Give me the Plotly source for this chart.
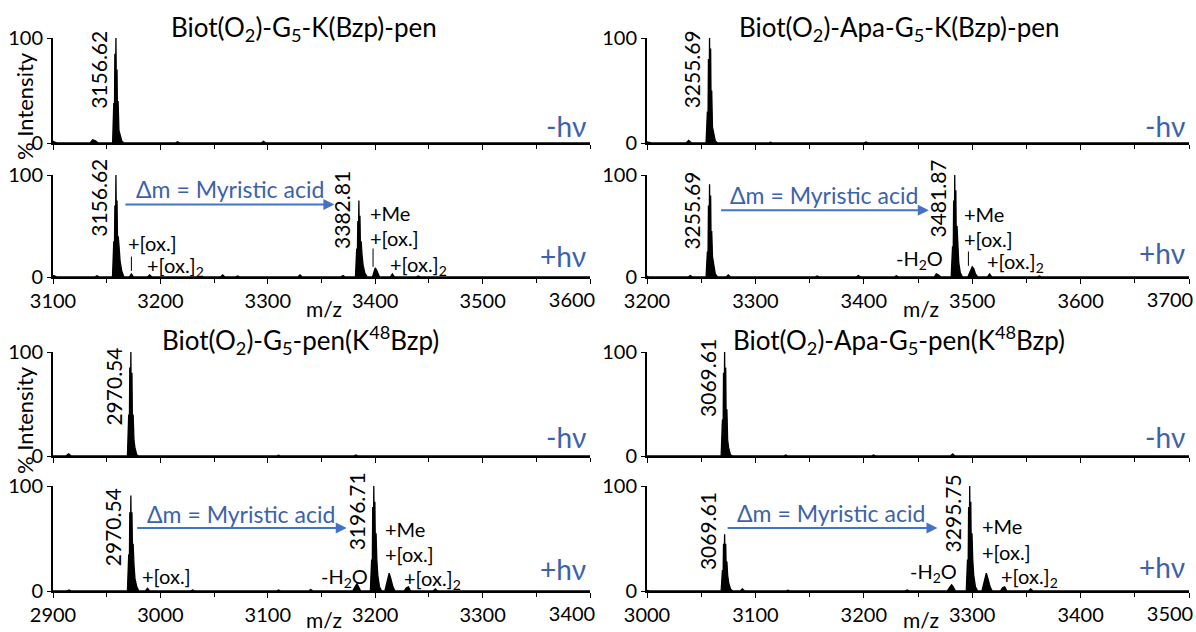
import plotly.graph_objects as go

# ------------------------------------------------------------------ data
titles = [
    "Biot(O<sub>2</sub>)-G<sub>5</sub>-K(Bzp)-pen",
    "Biot(O<sub>2</sub>)-Apa-G<sub>5</sub>-K(Bzp)-pen",
    "Biot(O<sub>2</sub>)-G<sub>5</sub>-pen(K<sup>48</sup>Bzp)",
    "Biot(O<sub>2</sub>)-Apa-G<sub>5</sub>-pen(K<sup>48</sup>Bzp)",
]
conditions = ["-hν", "+hν"]
delta_label = "Δm = Myristic acid"
y_ticks = [0, 100]

a_ticks = [3100, 3200, 3300, 3400, 3500, 3600]
b_ticks = [3200, 3300, 3400, 3500, 3600, 3700]
c_ticks = [2900, 3000, 3100, 3200, 3300, 3400]
d_ticks = [3000, 3100, 3200, 3300, 3400, 3500]

# peak labels (m/z of monoisotopic peak) : dark / light
a_dark_peaks = [3156.62]
a_light_peaks = [3156.62, 3382.81]
b_dark_peaks = [3255.69]
b_light_peaks = [3255.69, 3481.87]
c_dark_peaks = [2970.54]
c_light_peaks = [2970.54, 3196.71]
d_dark_peaks = [3069.61]
d_light_peaks = [3069.61, 3295.75]

# spectra (m/z, % intensity)
a_dark = [(3100, 2), (3102, 0.5), (3104, 0), (3134.5, 0), (3137, 3), (3139.5, 2), (3142, 0),
          (3155.5, 0), (3156.6, 38), (3157.1, 10), (3157.6, 85), (3158.1, 30), (3158.6, 100),
          (3159.1, 35), (3159.6, 70), (3160.1, 20), (3160.6, 40), (3161.4, 12), (3162.3, 8),
          (3164, 2), (3166, 0), (3214, 0), (3216, 1.2), (3218, 0), (3294, 0), (3296, 1.5),
          (3298, 0), (3600, 0)]
a_light = [(3100, 1.5), (3102, 0.5), (3104, 0), (3139, 0), (3141, 1.2), (3143, 0), (3155.4, 0),
           (3156.6, 35), (3157.1, 12), (3157.6, 70), (3158.1, 30), (3158.6, 100), (3159.1, 40),
           (3159.6, 75), (3160.1, 35), (3160.7, 40), (3161.5, 30), (3162.5, 15), (3164, 6),
           (3166, 0), (3171, 0), (3173, 3), (3175, 0), (3188, 0), (3190, 2), (3192, 0),
           (3256, 0), (3258, 2), (3260, 0), (3270, 0), (3272, 1), (3274, 0), (3328, 0),
           (3330, 2), (3332, 0), (3368, 0), (3370, 1.5), (3372, 0), (3381.6, 0), (3382.8, 28),
           (3383.3, 10), (3383.8, 55), (3384.3, 25), (3384.8, 75), (3385.3, 30), (3385.8, 60),
           (3386.3, 25), (3386.9, 35), (3387.7, 22), (3388.7, 12), (3390.3, 4), (3392.5, 0),
           (3397.5, 0), (3398.8, 6), (3400, 9), (3401.2, 7), (3402.5, 4), (3404, 0),
           (3414, 0), (3416, 3), (3418, 0), (3438, 0), (3440, 1), (3442, 0), (3600, 0)]
b_dark = [(3200, 1), (3202, 0.3), (3204, 0), (3236, 0), (3238.5, 2.5), (3241, 0), (3254.5, 0),
          (3255.7, 30), (3256.2, 8), (3256.7, 80), (3257.2, 25), (3257.7, 100), (3258.2, 35),
          (3258.7, 90), (3259.2, 25), (3259.7, 50), (3260.4, 15), (3261.3, 10), (3263, 2),
          (3265, 0), (3312, 0), (3314, 0.8), (3316, 0), (3400, 0), (3402, 1), (3404, 0),
          (3700, 0)]
b_light = [(3200, 1), (3202, 0), (3238, 0), (3240, 1.5), (3242, 0), (3254.5, 0), (3255.7, 25),
           (3256.2, 8), (3256.7, 70), (3257.2, 25), (3257.7, 91), (3258.2, 35), (3258.7, 80),
           (3259.2, 25), (3259.7, 45), (3260.4, 20), (3261.3, 12), (3263, 3), (3265, 0),
           (3273, 0), (3275, 2), (3277, 0), (3355, 0), (3357, 1), (3359, 0), (3393, 0),
           (3395, 1.5), (3397, 0), (3428, 0), (3430, 1.2), (3432, 0), (3465, 0), (3467, 3),
           (3469, 2), (3471, 0), (3480.6, 0), (3481.9, 30), (3482.4, 10), (3482.9, 75),
           (3483.4, 28), (3483.9, 100), (3484.4, 35), (3484.9, 85), (3485.4, 28), (3486.0, 50),
           (3486.7, 25), (3487.6, 14), (3489, 4), (3491, 0), (3496, 0), (3498.5, 7), (3500, 10),
           (3501.5, 8), (3503, 3), (3505, 0), (3514, 0), (3516, 3), (3518, 0), (3560, 0),
           (3562, 1), (3564, 0), (3700, 0)]
c_dark = [(2900, 0), (2912, 0), (2914.5, 2), (2917, 0), (2969.3, 0), (2970.5, 40), (2971.0, 10),
          (2971.5, 85), (2972.0, 30), (2972.5, 100), (2973.0, 35), (2973.5, 80), (2974.0, 25),
          (2974.6, 40), (2975.4, 15), (2976.3, 8), (2978, 1), (2980, 0), (3108, 0), (3110, 0.8),
          (3112, 0), (3180, 0), (3182, 1), (3184, 0), (3400, 0)]
c_light = [(2900, 0), (2913, 0), (2915, 1), (2917, 0), (2969.3, 0), (2970.5, 35), (2971.0, 10),
           (2971.5, 75), (2972.0, 30), (2972.5, 91), (2973.0, 35), (2973.5, 75), (2974.0, 40),
           (2974.6, 45), (2975.4, 25), (2976.3, 12), (2978, 4), (2980, 0), (2986, 0), (2988, 2.5),
           (2990, 0), (3028, 0), (3030, 1), (3032, 0), (3108, 0), (3110, 1), (3112, 0),
           (3138, 0), (3140, 1.5), (3142, 0), (3179, 0), (3181.5, 5), (3183, 7), (3184.5, 4),
           (3186.5, 0), (3195.5, 0), (3196.7, 30), (3197.2, 10), (3197.7, 80), (3198.2, 30),
           (3198.7, 100), (3199.2, 40), (3199.7, 85), (3200.2, 35), (3200.8, 55), (3201.5, 30),
           (3202.4, 15), (3204, 4), (3206, 0), (3209, 0), (3211.5, 10), (3213, 17),
           (3214.5, 12), (3216.5, 4), (3218.5, 0), (3227, 0), (3229, 3), (3231, 4), (3233, 0),
           (3254, 0), (3256, 2), (3258, 0), (3400, 0)]
d_dark = [(3000, 0), (3068.4, 0), (3069.6, 35), (3070.1, 10), (3070.6, 80), (3071.1, 30),
          (3071.6, 100), (3072.1, 35), (3072.6, 85), (3073.1, 25), (3073.7, 45), (3074.4, 15),
          (3075.3, 8), (3077, 1), (3079, 0), (3126, 0), (3128, 1), (3130, 0), (3207, 0),
          (3209, 1), (3211, 0), (3280, 0), (3282, 2), (3284, 0), (3500, 0)]
d_light = [(3000, 0.5), (3002, 0), (3068.4, 0), (3069.6, 20), (3070.1, 6), (3070.6, 45),
           (3071.1, 18), (3071.6, 54), (3072.1, 22), (3072.6, 45), (3073.1, 20), (3073.7, 28),
           (3074.4, 15), (3075.3, 8), (3077, 2), (3079, 0), (3086, 0), (3088, 2), (3090, 0),
           (3128, 0), (3130, 0.8), (3132, 0), (3238, 0), (3240, 1), (3242, 0), (3277, 0),
           (3279.5, 4), (3281, 6), (3282.5, 4), (3284.5, 0), (3294.5, 0), (3295.7, 30),
           (3296.2, 10), (3296.7, 80), (3297.2, 30), (3297.7, 100), (3298.2, 40), (3298.7, 85),
           (3299.2, 35), (3299.8, 55), (3300.5, 30), (3301.4, 15), (3303, 4), (3305, 0),
           (3309, 0), (3311.5, 10), (3313, 17), (3314.5, 12), (3316.5, 4), (3318.5, 0),
           (3326, 0), (3328, 3), (3330, 4), (3332, 0), (3352, 0), (3354, 2), (3356, 0),
           (3500, 0)]

# ------------------------------------------------------------------ style / layout
W, H = 1196, 632
FONT = "Lato"
BLUE_TXT = "#3C62AC"
BLUE_ARR = "#4472C4"


def fx(px):
    return px / W


def fy(py):
    return 1 - py / H


col_px = [(53, 590), (647, 1189)]
row_px = [(38, 143), (175, 277), (352, 456), (486, 591)]

# subplot order: (spectrum, ticks, peaks, column, row)
subplots = [
    (a_dark, a_ticks, a_dark_peaks, 0, 0),
    (a_light, a_ticks, a_light_peaks, 0, 1),
    (b_dark, b_ticks, b_dark_peaks, 1, 0),
    (b_light, b_ticks, b_light_peaks, 1, 1),
    (c_dark, c_ticks, c_dark_peaks, 0, 2),
    (c_light, c_ticks, c_light_peaks, 0, 3),
    (d_dark, d_ticks, d_dark_peaks, 1, 2),
    (d_light, d_ticks, d_light_peaks, 1, 3),
]

# per subplot: y (intensity) of the rotated peak labels
peak_label_y = [[70], [78, 66], [70], [65, 77], [67], [61, 76], [75], [57, 74]]
# per light subplot: arrow (x0, x1, y), delta text (x, y)
arrows = {1: (3166, 3362, 71, 3265, 86), 3: (3267, 3460, 65.5, 3363, 80),
          5: (2977, 3173.5, 60, 3075, 73), 7: (3073, 3268, 60, 3170, 74)}
# side labels: (text, x, y, xanchor)
side = {
    1: [("+[ox.]", 3168, 33, "left"), ("+[ox.]<sub>2</sub>", 3186, 10, "left"),
        ("+Me", 3393, 63, "left"), ("+[ox.]", 3393, 38, "left"),
        ("+[ox.]<sub>2</sub>", 3412, 11, "left")],
    3: [("+Me", 3491, 62, "left"), ("+[ox.]", 3491, 37, "left"),
        ("-H<sub>2</sub>O", 3475, 17, "right"), ("+[ox.]<sub>2</sub>", 3512, 14, "left")],
    5: [("+[ox.]", 2981, 14, "left"), ("+Me", 3207, 59, "left"), ("+[ox.]", 3207, 35, "left"),
        ("-H<sub>2</sub>O", 3195, 13, "right"), ("+[ox.]<sub>2</sub>", 3225, 11, "left")],
    7: [("+Me", 3307, 62, "left"), ("+[ox.]", 3307, 37, "left"),
        ("-H<sub>2</sub>O", 3288, 18, "right"), ("+[ox.]<sub>2</sub>", 3325, 13, "left")],
}
tick_marks = {1: [(3173, 6, 20), (3398, 10, 28)], 3: [(3496.5, 11, 25)]}
cond_y = [16, 21, 16, 24, 18, 21, 18, 23]
last_label_shift = [-18, -19]  # px, per column (last tick label sits left of its tick)

fig = go.Figure()
layout = dict(
    width=W, height=H, margin=dict(l=0, r=0, t=0, b=0, autoexpand=False),
    paper_bgcolor="white", plot_bgcolor="white", showlegend=False,
    font=dict(family=FONT, color="black", size=20),
)
annotations = []
shapes = []
extra = 9

for i, (spec, ticks, peaks, col, row) in enumerate(subplots):
    n = i + 1
    xa = "x" if n == 1 else f"x{n}"
    ya = "y" if n == 1 else f"y{n}"
    mz = [p[0] for p in spec]
    inten = [p[1] for p in spec]
    fig.add_trace(go.Scatter(x=mz, y=inten, mode="lines", xaxis=xa, yaxis=ya,
                             line=dict(color="black", width=1.3),
                             fill="tozeroy", fillcolor="black", hoverinfo="skip"))
    x0, x1 = col_px[col]
    y0, y1 = row_px[row]
    lower = row in (1, 3)
    ticktext = [str(t) for t in ticks[:-1]] + [""]
    layout["xaxis" if n == 1 else f"xaxis{n}"] = dict(
        domain=[fx(x0), fx(x1)], range=[ticks[0], ticks[-1]], anchor=ya,
        tickmode="array", tickvals=ticks, ticktext=ticktext, showticklabels=lower,
        ticks="outside", ticklen=5, tickwidth=1, tickcolor="black",
        minor=dict(tickmode="linear", tick0=ticks[0], dtick=50, ticks="outside",
                   ticklen=4, tickcolor="black"),
        showline=True, linecolor="black", linewidth=2, showgrid=False, zeroline=False,
        tickfont=dict(size=20, family=FONT), fixedrange=True, automargin=False,
    )
    layout["yaxis" if n == 1 else f"yaxis{n}"] = dict(
        domain=[fy(y1), fy(y0)], range=[0, 100], anchor=xa,
        tickmode="array", tickvals=y_ticks, ticktext=[str(t) for t in y_ticks],
        ticks="outside", ticklen=4, tickcolor="black",
        showline=True, linecolor="black", linewidth=2, showgrid=False, zeroline=False,
        tickfont=dict(size=20, family=FONT), fixedrange=True, automargin=False,
    )
    if lower:
        # overlay axis carrying only the last tick label, shifted left as in the figure
        ex = f"x{extra}"
        fig.add_trace(go.Scatter(x=[ticks[-1]], y=[0], mode="markers", xaxis=ex, yaxis=ya,
                                 marker=dict(size=1, opacity=0), hoverinfo="skip"))
        layout[f"xaxis{extra}"] = dict(
            overlaying=xa, anchor=ya, range=[ticks[0], ticks[-1]],
            tickmode="array", tickvals=[ticks[-1]], ticktext=[str(ticks[-1])],
            ticks="", showline=False, showgrid=False, zeroline=False,
            ticklabelshift=last_label_shift[col], ticklabelstandoff=9,
            tickfont=dict(size=20, family=FONT), fixedrange=True, automargin=False,
        )
        extra += 1
    # peak labels
    for p, yl in zip(peaks, peak_label_y[i]):
        annotations.append(dict(xref=xa, yref=ya, x=p, y=yl, text=f"{p:.2f}",
                                textangle=-90, xanchor="right", yanchor="middle",
                                xshift=-1, showarrow=False,
                                font=dict(size=21, family=FONT, color="black")))
    # condition label
    annotations.append(dict(xref=xa, yref=ya, x=ticks[-1], y=cond_y[i],
                            text=conditions[row % 2], xanchor="right", yanchor="middle",
                            xshift=-2, showarrow=False,
                            font=dict(size=28, family=FONT, color=BLUE_TXT)))
    if i in arrows:
        ax0, ax1, ay, tx, ty = arrows[i]
        annotations.append(dict(xref=xa, yref=ya, axref=xa, ayref=ya, x=ax1, y=ay,
                                ax=ax0, ay=ay, text="", showarrow=True, arrowhead=2,
                                arrowsize=1.1, arrowwidth=2, arrowcolor=BLUE_ARR,
                                standoff=0, startstandoff=0))
        annotations.append(dict(xref=xa, yref=ya, x=tx, y=ty, text=delta_label,
                                showarrow=False, xanchor="center", yanchor="middle",
                                font=dict(size=23, family=FONT, color=BLUE_TXT)))
    for (t, sx, sy, anc) in side.get(i, []):
        annotations.append(dict(xref=xa, yref=ya, x=sx, y=sy, text=t, showarrow=False,
                                xanchor=anc, yanchor="middle",
                                font=dict(size=20, family=FONT, color="black")))
    for (mx, ly0, ly1) in tick_marks.get(i, []):
        shapes.append(dict(type="line", xref=xa, yref=ya, x0=mx, x1=mx, y0=ly0, y1=ly1,
                           line=dict(color="black", width=1)))

# panel titles
title_pos = [(304, 28), (899, 28), (300, 340), (899, 340)]
for t, (px, py) in zip(titles, title_pos):
    annotations.append(dict(xref="paper", yref="paper", x=fx(px), y=fy(py), text=t,
                            showarrow=False, xanchor="center", yanchor="middle",
                            font=dict(size=26, family=FONT, color="black")))
# y titles
for py in (106, 420):
    annotations.append(dict(xref="paper", yref="paper", x=fx(24), y=fy(py),
                            text="% Intensity", textangle=-90, showarrow=False,
                            xanchor="center", yanchor="middle",
                            font=dict(size=22, family=FONT, color="black")))
# x titles
for px, py in ((324, 309), (921, 309), (324, 619), (921, 619)):
    annotations.append(dict(xref="paper", yref="paper", x=fx(px), y=fy(py), text="m/z",
                            showarrow=False, xanchor="center", yanchor="middle",
                            font=dict(size=21, family=FONT, color="black")))

layout["annotations"] = annotations
layout["shapes"] = shapes
fig.update_layout(**layout)
fig.write_html(
    "out.html",
    config={"displayModeBar": False},
    post_script="document.body.style.margin='0';document.body.style.overflow='hidden';",
)
